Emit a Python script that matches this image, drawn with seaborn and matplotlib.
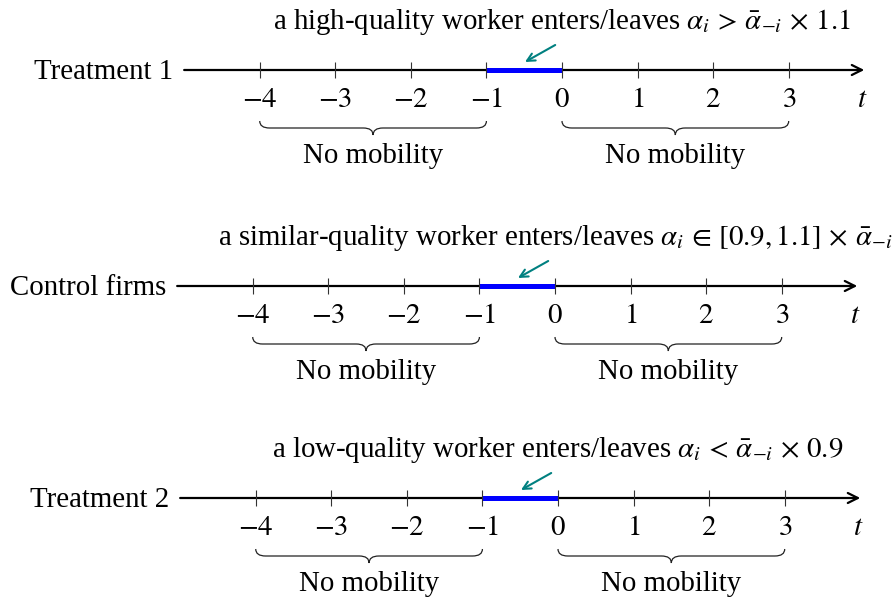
import numpy as np
import pandas as pd
import matplotlib
matplotlib.use("Agg")
import matplotlib.pyplot as plt
from matplotlib.path import Path
from matplotlib.patches import PathPatch
import seaborn as sns

# ---------------- data ----------------
row_names = ["Treatment 1", "Control firms", "Treatment 2"]
row_titles = [
    r"a high-quality worker enters/leaves $\alpha_i \,>\, \bar{\alpha}_{-i} \,\times\, 1.1$",
    r"a similar-quality worker enters/leaves $\alpha_i \,\in\, [0.9, 1.1] \,\times\, \bar{\alpha}_{-i}$",
    r"a low-quality worker enters/leaves $\alpha_i \,<\, \bar{\alpha}_{-i} \,\times\, 0.9$",
]
tick_values = [-4, -3, -2, -1, 0, 1, 2, 3]
tick_labels = [r"$-4$", r"$-3$", r"$-2$", r"$-1$", r"$0$", r"$1$", r"$2$", r"$3$"]
axis_range = [-5, 4]
event_window = [-1, 0]
brace_ranges = [(-4, -1), (0, 3)]
brace_label = "No mobility"
axis_name = r"$t$"

# ---------------- layout ----------------
W, H = 895, 602
line_y = [70, 286, 498]          # pixel rows of the three time lines
zero_px = [562, 555, 558]        # pixel column of t = 0 for each row
px_per_t = 75.57

sns.set_theme(style="white")
plt.rcParams["font.family"] = ["Liberation Serif", "DejaVu Serif"]
plt.rcParams["mathtext.fontset"] = "stix"
plt.rcParams["text.color"] = "black"
FS = 20.8

fig = plt.figure(figsize=(W / 100, H / 100), dpi=100)
fig.patch.set_facecolor("white")


def brace_path(x0, x1, ytop, ymid, ytip, r):
    xm = (x0 + x1) / 2
    verts = [
        (x0, ytop), (x0, ymid), (x0 + r, ymid),
        (xm - r, ymid),
        (xm, ymid), (xm, ytip),
        (xm, ymid), (xm + r, ymid),
        (x1 - r, ymid),
        (x1, ymid), (x1, ytop),
    ]
    codes = [Path.MOVETO, Path.CURVE3, Path.CURVE3,
             Path.LINETO,
             Path.CURVE3, Path.CURVE3,
             Path.CURVE3, Path.CURVE3,
             Path.LINETO,
             Path.CURVE3, Path.CURVE3]
    return Path(verts, codes)


for k in range(3):
    ax = fig.add_axes([0, 0, 1, 1])
    ax.set_xlim(-zero_px[k] / px_per_t, (W - zero_px[k]) / px_per_t)
    ax.set_ylim(H, 0)
    ax.axis("off")
    ax.patch.set_alpha(0)
    y0 = line_y[k]

    # main axis with arrow head
    ax.annotate("", xy=(axis_range[1], y0), xytext=(axis_range[0], y0),
                arrowprops=dict(arrowstyle="->", lw=1.6, color="black",
                                shrinkA=0, shrinkB=0, mutation_scale=18))
    # highlighted event window
    seg = pd.DataFrame({"t": event_window, "y": [y0, y0]})
    sns.lineplot(data=seg, x="t", y="y", ax=ax, color="#0000ff", lw=3.6,
                 solid_capstyle="butt", zorder=3)
    # ticks
    ax.vlines(tick_values, y0 - 8, y0 + 8, color="#333333", lw=0.8, zorder=4)
    for v, lab in zip(tick_values, tick_labels):
        ax.text(v, y0 + 37, lab, ha="center", va="baseline", fontsize=FS,
                color="black")
    ax.text(axis_range[1] - 0.03, y0 + 37, axis_name, ha="center",
            va="baseline", fontsize=FS, color="black")

    # row label
    ax.text(axis_range[0] - 0.15, y0 + 9, row_names[k], ha="right",
            va="baseline", fontsize=FS, color="black")
    # title
    ax.text(0.0, y0 - 41, row_titles[k], ha="center", va="baseline",
            fontsize=FS, color="black")
    # teal arrow
    ax.annotate("", xy=(-0.49, y0 - 8), xytext=(-0.09, y0 - 25),
                arrowprops=dict(arrowstyle="->", lw=1.5, color="#008080",
                                shrinkA=0, shrinkB=0, mutation_scale=14))
    # braces
    for a, b in brace_ranges:
        p = brace_path(a, b, y0 + 51, y0 + 58, y0 + 65, 0.13)
        ax.add_patch(PathPatch(p, fill=False, lw=0.9, color="#222222"))
        ax.text((a + b) / 2, y0 + 93, brace_label, ha="center",
                va="baseline", fontsize=FS, color="black")

fig.savefig("out.png", dpi=100, facecolor="white")
